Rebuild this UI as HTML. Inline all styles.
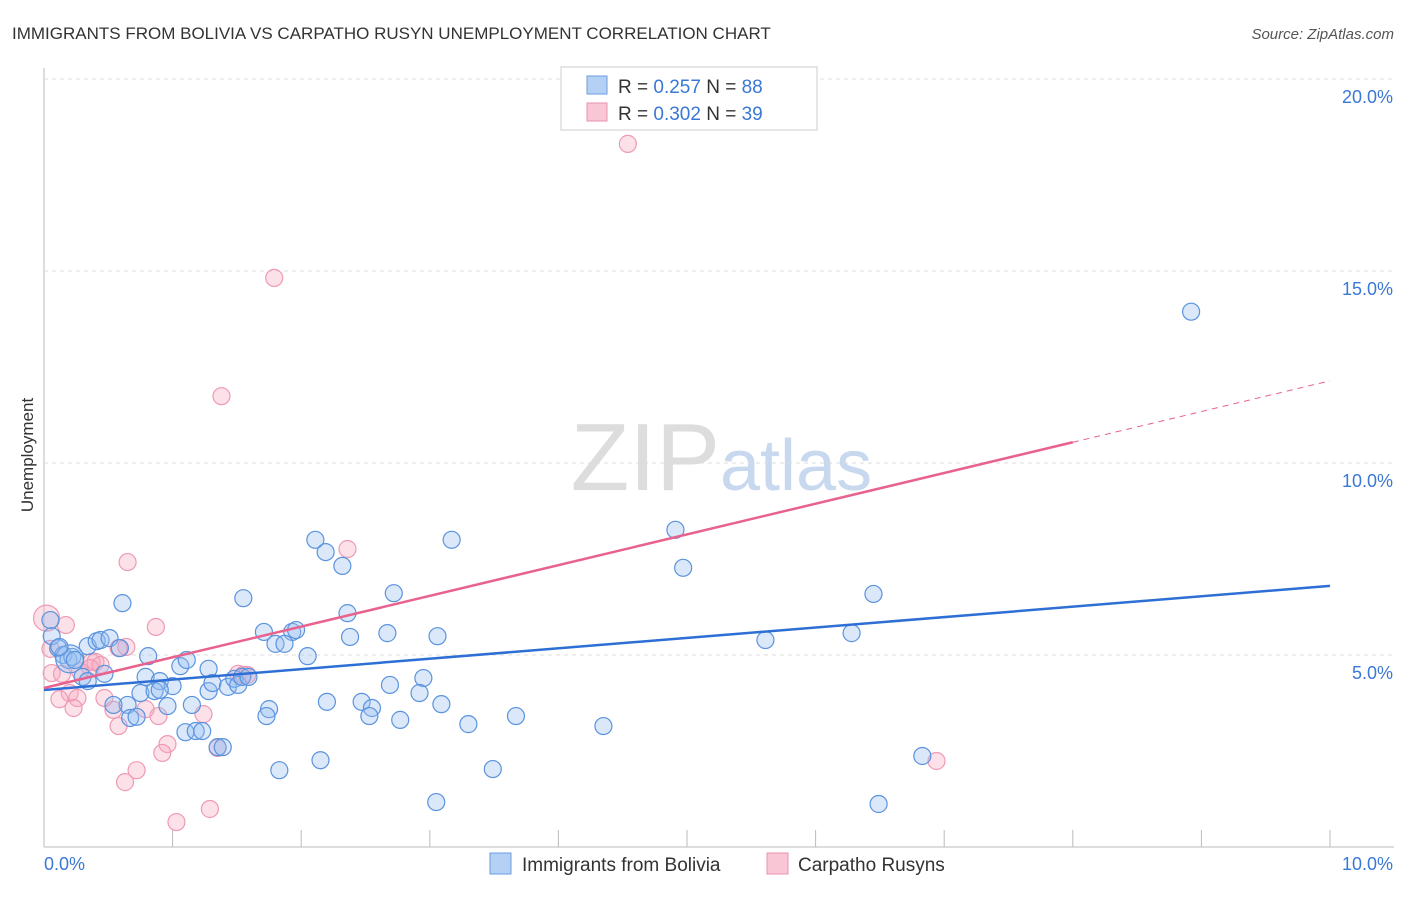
<!DOCTYPE html>
<html><head><meta charset="utf-8"><style>
body{margin:0;background:#fff;font-family:"Liberation Sans",sans-serif}
svg text{font-family:"Liberation Sans",sans-serif}
</style></head><body>
<svg id="c" width="1406" height="892">
<text x="12" y="39" font-size="17" fill="#333">IMMIGRANTS FROM BOLIVIA VS CARPATHO RUSYN UNEMPLOYMENT CORRELATION CHART</text>
<text x="1394" y="39" font-size="15" fill="#555" text-anchor="end" font-style="italic">Source: ZipAtlas.com</text>
<text x="720" y="490" font-size="96" fill="#ddd" text-anchor="end" font-family="Liberation Serif">ZIP</text>
<text x="720" y="490" font-size="72" fill="#c8d8ee">atlas</text>
<g id="grid"></g><g id="pts"></g><g id="lines"></g>
<text transform="translate(33,455) rotate(-90)" font-size="17" fill="#333" text-anchor="middle">Unemployment</text>
<text x="44" y="870" font-size="18" fill="#3a78d6">0.0%</text>
<text x="1393" y="870" font-size="18" fill="#3a78d6" text-anchor="end">10.0%</text>
<g>
<rect x="561" y="67" width="256" height="63" fill="#fff" stroke="#ccc"/>
<rect x="587" y="76" width="20" height="18" fill="#b5d0f5" stroke="#6a9de0"/>
<rect x="587" y="103" width="20" height="18" fill="#f8c6d4" stroke="#e893ad"/>
<text x="618" y="93" font-size="19" fill="#333">R = <tspan fill="#3a78d6">0.257</tspan>   N = <tspan fill="#3a78d6">88</tspan></text>
<text x="618" y="120" font-size="19" fill="#333">R = <tspan fill="#3a78d6">0.302</tspan>   N = <tspan fill="#3a78d6">39</tspan></text>
</g>
<g>
<rect x="490" y="853" width="21" height="21" fill="#b5d0f5" stroke="#6a9de0"/>
<text x="522" y="871" font-size="19" fill="#333">Immigrants from Bolivia</text>
<rect x="767" y="853" width="21" height="21" fill="#f8c6d4" stroke="#e893ad"/>
<text x="798" y="871" font-size="19" fill="#333">Carpatho Rusyns</text>
</g>
</svg>
<script>
const yTicks=[5,10,15,20];
const yTickLabels=["5.0%","10.0%","15.0%","20.0%"];
const xTicks=[1,2,3,4,5,6,7,8,9,10];
const blueX=[8.92,4.91,4.97,6.45,6.28,5.61,6.83,6.49,3.17,2.11,2.19,2.32,2.72,2.36,2.38,2.67,3.06,2.95,2.69,2.92,3.09,3.30,3.67,4.35,3.49,3.05,1.55,0.61,1.71,1.93,1.96,1.80,1.87,2.05,1.75,1.73,2.20,2.47,2.55,2.53,2.77,1.83,2.15,0.05,0.06,0.11,0.15,0.19,0.22,0.34,0.41,0.44,0.51,0.59,0.30,0.34,0.47,0.81,0.79,0.90,1.00,1.06,1.11,1.28,1.28,1.31,1.43,1.48,1.51,1.54,1.59,0.75,0.86,0.90,1.15,0.96,0.65,0.54,0.67,0.72,1.10,1.18,1.23,1.35,1.39,0.20,0.24,0.12];
const blueY=[13.94,8.26,7.27,6.59,5.57,5.39,2.37,1.12,8.00,8.00,7.68,7.32,6.61,6.09,5.47,5.57,5.49,4.40,4.22,4.01,3.72,3.20,3.41,3.15,2.03,1.17,6.48,6.35,5.60,5.60,5.65,5.29,5.29,4.97,3.59,3.41,3.78,3.78,3.62,3.41,3.31,2.00,2.26,5.91,5.49,5.18,5.00,4.87,4.95,5.23,5.36,5.39,5.44,5.18,4.43,4.32,4.51,4.97,4.43,4.32,4.19,4.71,4.87,4.64,4.06,4.27,4.17,4.38,4.22,4.43,4.43,4.01,4.06,4.09,3.70,3.67,3.70,3.70,3.36,3.39,2.99,3.02,3.02,2.60,2.60,4.90,4.87,5.21];
const pinkX=[4.54,1.79,1.38,2.36,0.65,0.02,0.17,0.87,0.58,0.05,0.06,0.14,0.37,0.40,0.36,0.44,0.20,0.26,0.23,0.47,0.54,0.58,0.79,0.89,1.24,0.96,0.92,0.72,0.63,1.29,1.03,1.35,1.51,1.55,1.58,6.94,0.64,0.28,0.12];
const pinkY=[18.31,14.82,11.74,7.76,7.42,5.96,5.78,5.73,5.18,5.16,4.53,4.51,4.82,4.82,4.66,4.74,4.01,3.88,3.62,3.88,3.57,3.15,3.59,3.41,3.46,2.68,2.45,2.00,1.69,0.99,0.65,2.58,4.51,4.48,4.48,2.24,5.21,4.58,3.85];
const blueFit=[4.09,0.271];
const pinkFit=[4.14,0.80];
const X=v=>44+v*128.6, Y=v=>847-v*38.4;
const NS="http://www.w3.org/2000/svg";
function mk(t,a,p){const e=document.createElementNS(NS,t);for(const k in a)e.setAttribute(k,a[k]);p.appendChild(e);return e;}
const g=document.getElementById('grid');
const ax=mk('line',{x1:44,y1:68,x2:44,y2:847,stroke:'#bbb'},g);


const bx=mk('line',{x1:44,y1:847,x2:1394,y2:847,stroke:'#bbb'},g);


yTicks.forEach((t,i)=>{
 const l=mk('line',{x1:44,x2:1394,y1:Y(t),y2:Y(t),stroke:'#ddd','stroke-dasharray':'4,4'},g);
 
 
 const tx=mk('text',{x:1393,y:Y(t)+24,'font-size':18,fill:'#3a78d6','text-anchor':'end'},g);
 tx.textContent=yTickLabels[i];
 
 
});
xTicks.forEach(t=>{
 const l=mk('line',{x1:X(t),x2:X(t),y1:830,y2:847,stroke:'#bbb'},g);
 
 
});
const p=document.getElementById('pts');
pinkX.forEach((x,i)=>{
 const c=mk('circle',{cx:X(x),cy:Y(pinkY[i]),r:i==5?13:8.5,fill:'rgba(246,170,192,0.35)',stroke:'#ef9ab4','stroke-width':1.2},p);
 
 
});
blueX.forEach((x,i)=>{
 const c=mk('circle',{cx:X(x),cy:Y(blueY[i]),r:i==85?14:8.5,fill:'rgba(150,190,240,0.35)',stroke:'#5b93de','stroke-width':1.2},p);
 
 
});
const L=document.getElementById('lines');
const bl=mk('line',{x1:X(0),y1:Y(blueFit[0]),x2:X(10),y2:Y(blueFit[0]+blueFit[1]*10),stroke:'#2e6fd6','stroke-width':2.5},L);


const pl=mk('line',{x1:X(0),y1:Y(pinkFit[0]),x2:X(8),y2:Y(pinkFit[0]+pinkFit[1]*8),stroke:'#e8628d','stroke-width':2.5},L);


const pd=mk('line',{x1:X(8),y1:Y(pinkFit[0]+pinkFit[1]*8),x2:X(10),y2:Y(pinkFit[0]+pinkFit[1]*10),stroke:'#e8628d','stroke-width':1,'stroke-dasharray':'6,5'},L);


</script>
</body></html>
